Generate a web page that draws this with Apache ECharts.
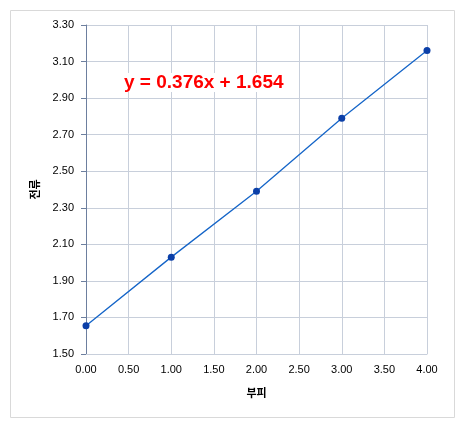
<!DOCTYPE html>
<html>
<head>
<meta charset="utf-8">
<script src="https://cdn.jsdelivr.net/npm/echarts@6/dist/echarts.min.js"></script>
<style>
  html, body { margin: 0; padding: 0; background: #fff; }
  #chart { width: 465px; height: 429px; }
</style>
</head>
<body>
<div id="chart"></div>
<script>
  // 부피 / 전류 측정값
  const volume = [0, 1, 2, 3, 4];
  const current = [1.654, 2.03, 2.39, 2.79, 3.16];
  const equation = 'y = 0.376x + 1.654';
  const xTitle = '부피';
  const yTitle = '전류';

  const chart = echarts.init(document.getElementById('chart'));
  const points = volume.map((v, i) => [v, current[i]]);
  const font = '"Liberation Sans", "Noto Sans CJK KR", sans-serif';

  const option = {
    animation: false,
    graphic: [
      {
        type: 'rect',
        shape: { x: 10.5, y: 10.5, width: 444, height: 407 },
        style: { fill: 'none', stroke: '#d9d9d9', lineWidth: 1 },
        silent: true
      },
      {
        type: 'text',
        left: 124, top: 73,
        z: 100,
        style: {
          text: equation, fill: '#ff0000',
          backgroundColor: '#fff',
          font: 'bold 19px ' + font
        }
      }
    ],
    grid: { left: 86, top: 25, right: 38, bottom: 75 },
    xAxis: {
      type: 'value',
      min: 0, max: 4, interval: 0.5,
      name: xTitle,
      nameLocation: 'middle',
      nameGap: 34,
      nameTextStyle: { fontFamily: font, fontWeight: 'bold', fontSize: 11, color: '#000' },
      axisLine: { lineStyle: { color: '#c8cfdb' } },
      axisTick: { show: false },
      splitLine: { show: true, lineStyle: { color: '#c8cfdb' } },
      axisLabel: {
        formatter: v => v.toFixed(2),
        color: '#000', fontSize: 11, fontFamily: font, margin: 10
      }
    },
    yAxis: {
      type: 'value',
      min: 1.5, max: 3.3, interval: 0.2,
      name: yTitle,
      nameLocation: 'middle',
      nameGap: 44,
      nameRotate: 90,
      nameTextStyle: { fontFamily: font, fontWeight: 'bold', fontSize: 11, color: '#000' },
      axisLine: { show: true, lineStyle: { color: '#6d7f9f' } },
      axisTick: { show: true, length: 5, lineStyle: { color: '#6d7f9f' } },
      splitLine: { show: true, lineStyle: { color: '#c8cfdb' } },
      axisLabel: {
        formatter: v => v.toFixed(2),
        color: '#000', fontSize: 11, fontFamily: font, margin: 12
      }
    },
    series: [
      {
        type: 'line',
        data: points,
        symbol: 'circle',
        symbolSize: 7,
        lineStyle: { color: '#1565c8', width: 1.3 },
        itemStyle: { color: '#0b3fa8' }
      }
    ]
  };
  chart.setOption(option);
  window.addEventListener('resize', function () {
    chart.resize();
  });
</script>
</body>
</html>
